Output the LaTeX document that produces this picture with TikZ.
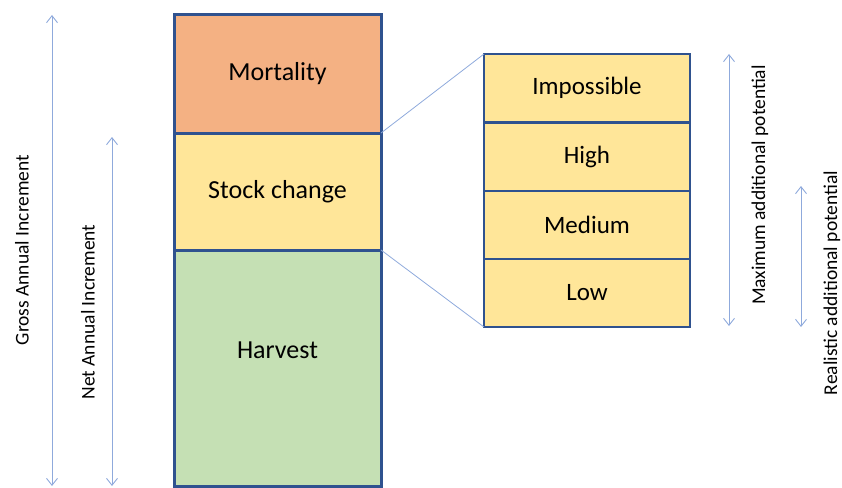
\documentclass[tikz,border=0pt]{standalone}
\usepackage{fontspec}
\setmainfont{Carlito}
\usetikzlibrary{arrows.meta}

\definecolor{boxline}{HTML}{2F528F}
\definecolor{arrowline}{HTML}{8FAADC}
\definecolor{mortfill}{HTML}{F4B183}
\definecolor{stockfill}{HTML}{FFE699}
\definecolor{harvfill}{HTML}{C5E0B4}

\tikzset{
    bigbox/.style={draw=boxline, line width=3pt, outer sep=0pt, inner sep=0pt,
        anchor=north west, minimum width=207pt, font=\fontsize{26}{30}\selectfont},
    smallbox/.style={draw=boxline, line width=2pt, outer sep=0pt, inner sep=0pt,
        anchor=north west, minimum width=206pt, minimum height=68pt,
        fill=stockfill, font=\fontsize{25}{30}\selectfont},
    span/.style={draw=arrowline, line width=0.9pt, {Straight Barb[length=7pt,width=11pt]}-{Straight Barb[length=7pt,width=11pt]}},
    sidelabel/.style={rotate=90, font=\fontsize{19.5}{23}\selectfont},
    zoomline/.style={draw=arrowline, line width=0.8pt}
}

\begin{document}
\begin{tikzpicture}[x=1pt, y=-1pt]
\useasboundingbox (0,0) rectangle (842,487);

% the three parts of the gross increment
\node[bigbox, fill=mortfill, minimum height=118pt] (mort) at (174,15) {Mortality};
\node[bigbox, fill=stockfill, minimum height=117pt] (stock) at (174,133) {Stock change};
\node[bigbox, fill=harvfill, minimum height=236pt] (harv) at (174,250) {};
\node[font=\fontsize{26}{30}\selectfont] (harvtext) at (277.5,350) {Harvest};

% potential classes
\foreach \y/\name/\txt in {54/imp/Impossible,123/high/High,191/med/Medium,259/low/Low}
{
    \node[smallbox] (\name) at (484,\y) {\txt};
}

\draw[zoomline] (mort.south east) -- (imp.north west);
\draw[zoomline] (stock.south east) -- (low.south west);

% spans and their labels
\coordinate (gtop) at (52,15);
\coordinate (gbot) at (52,486);
\coordinate (ntop) at (112,137);
\coordinate (nbot) at (112,486);
\coordinate (mtop) at (729,54);
\coordinate (mbot) at (729,326);
\coordinate (rtop) at (801,186);
\coordinate (rbot) at (801,327);
\draw[span] (gtop) -- (gbot);
\draw[span] (ntop) -- (nbot);
\draw[span] (mtop) -- (mbot);
\draw[span] (rtop) -- (rbot);

\node[sidelabel] (gross) at (22,250) {Gross Annual Increment};
\node[sidelabel] (net) at (88,312) {Net Annual Increment};
\node[sidelabel] (maxpot) at (760,185) {Maximum additional potential};
\node[sidelabel] (realpot) at (832,283) {Realistic additional potential};
\end{tikzpicture}
\end{document}
